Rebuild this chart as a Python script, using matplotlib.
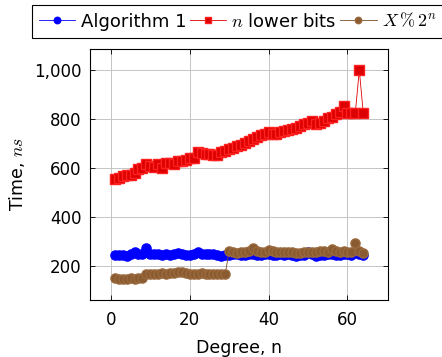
import matplotlib
matplotlib.use('Agg')
import matplotlib.pyplot as plt
from matplotlib.ticker import FuncFormatter

plt.rcParams['mathtext.fontset'] = 'cm'
plt.rcParams['font.family'] = ['DejaVu Sans']

degree = list(range(1, 65))

algo1 = [245, 244, 243, 240, 246, 258, 248, 250, 274, 250, 246, 248, 245, 246, 244, 247,
         252, 248, 244, 242, 248, 258, 250, 248, 246, 248, 244, 240, 242, 245, 248, 246,
         242, 244, 250, 246, 243, 245, 248, 246, 244, 245, 248, 243, 246, 244, 240, 242,
         245, 255, 246, 240, 242, 244, 248, 246, 242, 245, 247, 250, 244, 256, 246, 245]

lower_bits = [555, 560, 565, 570, 572, 578, 596, 600, 616, 608, 604, 616, 598, 618, 622, 615,
              628, 630, 634, 640, 642, 666, 662, 655, 658, 652, 652, 665, 670, 676, 682, 688,
              695, 702, 710, 718, 726, 735, 740, 745, 740, 738, 745, 750, 755, 760, 765, 772,
              780, 784, 792, 780, 782, 793, 805, 808, 820, 828, 852, 826, 826, 826, 1000, 826]

mod_pow = [148, 146, 147, 146, 148, 147, 149, 150, 165, 168, 167, 168, 170, 168, 170, 172,
           175, 176, 170, 168, 166, 168, 169, 166, 167, 165, 168, 166, 165, 262, 255, 252,
           258, 256, 262, 272, 260, 256, 258, 266, 260, 258, 256, 255, 258, 256, 252, 254,
           255, 256, 258, 256, 259, 262, 258, 268, 262, 258, 260, 258, 256, 292, 262, 252]

x_ticks = [0, 20, 40, 60]
y_ticks = [200, 400, 600, 800, 1000]

fig = plt.figure(figsize=(4.42, 3.57), dpi=100)
ax = fig.add_axes([0.2036, 0.1597, 0.6744, 0.703])

ms = 6.6
ax.plot(degree, algo1, color='#0000ff', marker='o', markersize=ms, lw=0.6,
        markeredgecolor='#0000ff', label='Algorithm 1', zorder=3)
ax.plot(degree, lower_bits, color='#e00000', marker='s', markersize=ms, lw=0.6,
        markeredgecolor='#ff2020', markerfacecolor='#dd0000', label='$n$ lower bits', zorder=3)
ax.plot(degree, mod_pow, color='#7a4d26', marker='o', markersize=ms, lw=0.6,
        markerfacecolor='#8a5a30', markeredgecolor='#9a6a3e', label='$X\\,\\%\\,2^n$', zorder=4)

ax.set_xlim(-5.3, 70.3)
ax.set_ylim(60, 1086)
ax.set_xticks(x_ticks)
ax.set_yticks(y_ticks)
ax.yaxis.set_major_formatter(FuncFormatter(lambda v, p: '{:,}'.format(int(v))))
ax.grid(True, color='#c4c4c4', lw=0.7)
ax.set_axisbelow(True)
ax.tick_params(direction='in', top=True, right=True, length=3.5, width=0.6, labelsize=12)
ax.tick_params(axis='x', pad=8)
ax.tick_params(axis='y', pad=6)
for s in ax.spines.values():
    s.set_linewidth(0.8)

ax.set_xlabel('Degree, n', fontsize=12.5, labelpad=7)
ax.set_ylabel('Time, $ns$', fontsize=12.5, labelpad=5)

leg = fig.legend(loc='upper left', bbox_to_anchor=(32 / 442, 1 - 5 / 357), ncol=3,
                 fontsize=13, frameon=True, fancybox=False, framealpha=1,
                 edgecolor='black', handlelength=2.0, handletextpad=0.3,
                 columnspacing=0.2, borderpad=0.4, borderaxespad=0, markerscale=0.7)
leg.get_frame().set_linewidth(0.8)

fig.savefig('out.png', dpi=100)
